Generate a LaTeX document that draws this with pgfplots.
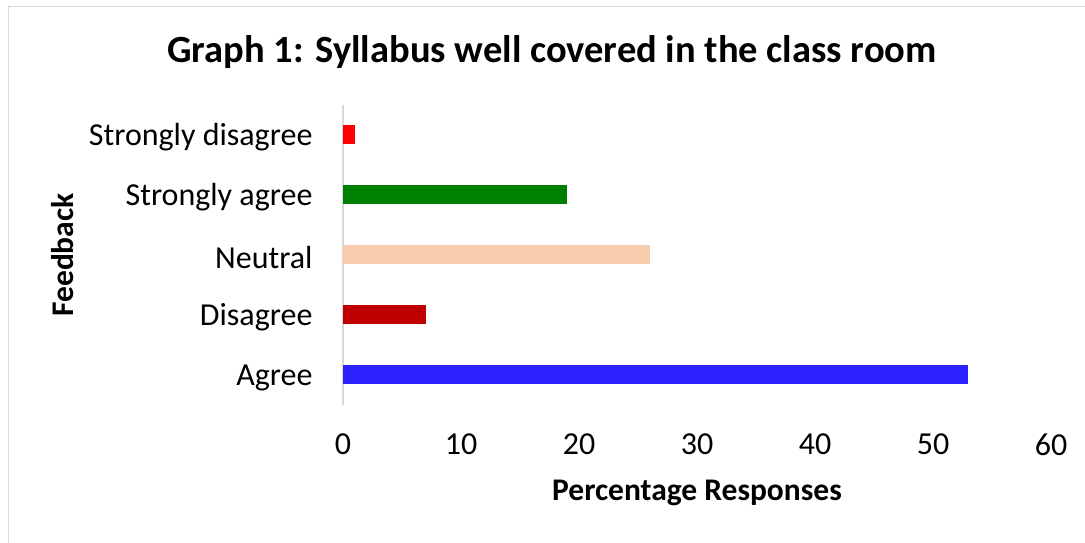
\documentclass[border=0pt]{standalone}
\usepackage{pgfplots}
\pgfplotsset{compat=1.18}
\usepackage{fontspec}
\setmainfont{Carlito}
\definecolor{frame}{RGB}{217,217,217}
\definecolor{cSD}{RGB}{255,0,0}
\definecolor{cSA}{RGB}{0,128,0}
\definecolor{cN}{RGB}{248,203,173}
\definecolor{cD}{RGB}{192,0,0}
\definecolor{cA}{RGB}{43,33,255}
\begin{document}
\begin{tikzpicture}[x=1pt,y=1pt]
\path[use as bounding box] (0,0) rectangle (1085,543);
\draw[color=frame, line width=1.5pt] (8.5,0) -- (8.5,536.5) -- (1085,536.5);
\begin{axis}[
  at={(343pt,138pt)}, anchor=south west,
  scale only axis, width=708pt, height=300pt,
  xmin=0, xmax=60, ymin=-0.5, ymax=4.5,
  xbar, bar width=19pt, bar shift=0pt,
  axis lines*=left,
  x axis line style={draw=none},
  y axis line style={draw=frame, line width=1.5pt, -},
  major tick length=0pt,
  xtick={0,10,...,60},
  ytick={0,1,2,3,4},
  yticklabels={Agree,Disagree,Neutral,Strongly agree,Strongly disagree},
  /pgf/number format/assume math mode=true,
  tick label style={font=\fontsize{32}{32}\selectfont},
  xticklabel style={yshift=-25pt},
  yticklabel style={xshift=-27pt, yshift=-2.5pt},
  clip=false,
]
\addplot[fill=cA, draw=none] coordinates {(53,0)};
\addplot[fill=cD, draw=none] coordinates {(7,1)};
\addplot[fill=cN, draw=none] coordinates {(26,2)};
\addplot[fill=cSA, draw=none] coordinates {(19,3)};
\addplot[fill=cSD, draw=none] coordinates {(1,4)};
\end{axis}
\node[font=\fontsize{38.5}{38.5}\selectfont\bfseries] at (552,491) {Graph 1: Syllabus well covered in the class room};
\node[font=\fontsize{31.5}{31.5}\selectfont\bfseries] at (697,50) {Percentage Responses};
\node[font=\fontsize{31.5}{31.5}\selectfont\bfseries, rotate=90] at (63,288) {Feedback};
\end{tikzpicture}
\end{document}
